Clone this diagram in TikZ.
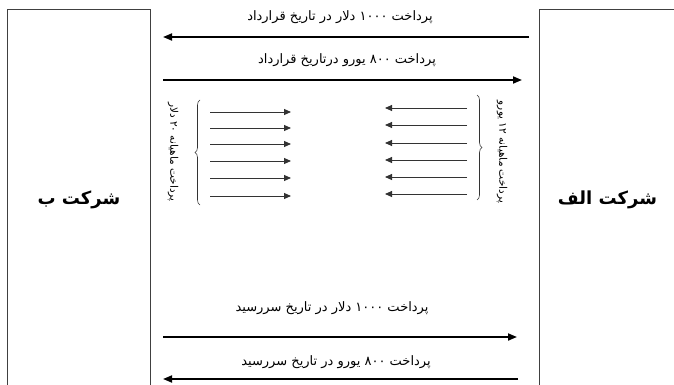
\documentclass[tikz,border=0pt]{standalone}
\usepackage{fontspec}
\newfontfamily\farsi[Script=Arabic]{DejaVu Sans}
\TeXXeTstate=1
\usetikzlibrary{arrows.meta,decorations.pathreplacing}

\begin{document}
\begin{tikzpicture}[x=1pt,y=-1pt,
    firm/.style={draw=black!75,line width=0.9pt,minimum width=#1,minimum height=380pt,anchor=north west,
      font=\farsi\bfseries\fontsize{18}{20}\selectfont},
    big/.style={line width=1.8pt,-{Triangle[length=9pt,width=7pt]}},
    small/.style={line width=0.9pt,draw=black!80,-{Triangle[length=7pt,width=6pt]}},
    lbl/.style={font=\farsi\fontsize{13}{15}\selectfont,inner sep=1pt},
    side/.style={font=\farsi\fontsize{10.5}{12}\selectfont,inner sep=1pt,rotate=-90},
    curly/.style={draw=black!80,line width=0.6pt,decorate,decoration={brace,amplitude=5pt}}]
  \useasboundingbox (0,0) rectangle (674,385);
  \clip (0,0) rectangle (674,385);
  % the two companies
  \node[firm=143pt] (compB) at (7,9) {\beginR شرکت ب\endR};
  \node[firm=136pt] (compA) at (539,9) {\beginR شرکت الف\endR};
  % payments at the contract date
  \coordinate (c1s) at (529,37); \coordinate (c1e) at (163,37);
  \coordinate (c2s) at (163,80); \coordinate (c2e) at (522,80);
  \draw[big] (c1s) -- (c1e);
  \draw[big] (c2s) -- (c2e);
  \node[lbl] (pay1) at (340,17) {\beginR پرداخت ۱۰۰۰ دلار در تاریخ قرارداد\endR};
  \node[lbl] (pay2) at (347,60) {\beginR پرداخت ۸۰۰ یورو درتاریخ قرارداد\endR};
  % monthly payments
  \foreach \i/\yl/\yr in {1/112/108,2/128/125,3/144/143,4/161/160,5/178/177,6/196/194}{
    \coordinate (lb\i) at (210,\yl); \coordinate (le\i) at (291,\yl);
    \coordinate (rb\i) at (467,\yr); \coordinate (re\i) at (385,\yr);
    \draw[small] (lb\i) -- (le\i);
    \draw[small] (rb\i) -- (re\i);
  }
  \coordinate (bl1) at (200,205); \coordinate (bl2) at (200,100);
  \coordinate (br1) at (477,95); \coordinate (br2) at (477,200);
  \draw[curly] (bl1) -- (bl2);
  \draw[curly] (br1) -- (br2);
  \node[side] (monB) at (173,152) {\beginR پرداخت ماهیانه ۲۰ دلار\endR};
  \node[side] (monA) at (502,152) {\beginR پرداخت ماهیانه ۱۲ یورو\endR};
  % payments at maturity
  \coordinate (m1s) at (163,337); \coordinate (m1e) at (517,337);
  \coordinate (m2s) at (518,379); \coordinate (m2e) at (163,379);
  \draw[big] (m1s) -- (m1e);
  \draw[big] (m2s) -- (m2e);
  \node[lbl] (pay3) at (332,308) {\beginR پرداخت ۱۰۰۰ دلار در تاریخ سررسید\endR};
  \node[lbl] (pay4) at (336,362) {\beginR پرداخت ۸۰۰ یورو در تاریخ سررسید\endR};
\end{tikzpicture}
\end{document}
